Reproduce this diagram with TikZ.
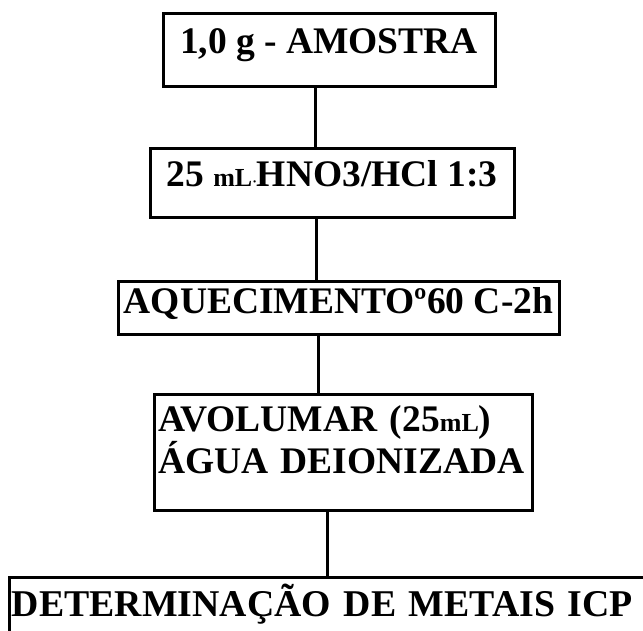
\documentclass[tikz,border=0pt]{standalone}
\usepackage{fontspec}
\setmainfont{Liberation Serif}
\usepackage{tikz}
\usetikzlibrary{positioning}

\newcommand{\unitml}{{\fontsize{26}{30}\selectfont mL}}

\begin{document}
\begin{tikzpicture}[
x=1pt, y=1pt,
box/.style={rectangle, draw=black, line width=3pt, inner xsep=0pt, inner ysep=0pt,
  font=\bfseries\fontsize{37.5}{42}\selectfont},
link/.style={draw=black, line width=3pt},
]
\useasboundingbox (0,0) rectangle (643,631);

\node[box, minimum width=332, text height=40.3, text depth=33] (amostra) at (329,580.65) {1,0 g - AMOSTRA};
\node[box, minimum width=364, text height=38, text depth=30.5] (acido) at (332,447.75) {25 \unitml{\fontsize{14}{16}\selectfont·}HNO3/HCl 1:3};
\node[box, minimum width=441, text height=31.6, text depth=21.4] (aquec) at (338.5,322.5) {AQUECIMENTOº60 C-2h};
\node[box, inner xsep=4pt, text width=370, align=left, text height=37, text depth=79] (avolumar) at (343,178) {AVOLUMAR (25\unitml)\\ ÁGUA DEIONIZADA};
\node[box, inner xsep=3pt, text width=650, align=left, text height=39, text depth=33,
  font=\bfseries\fontsize{37.8}{42}\selectfont] (icp) at (337,17) {DETERMINAÇÃO DE METAIS ICP};

\draw[link] (amostra.south -| 315,0) -- (acido.north -| 315,0);
\draw[link] (acido.south -| 316,0) -- (aquec.north -| 316,0);
\draw[link] (aquec.south -| 318,0) -- (avolumar.north -| 318,0);
\draw[link] (avolumar.south -| 327,0) -- (icp.north -| 327,0);
\end{tikzpicture}
\end{document}
